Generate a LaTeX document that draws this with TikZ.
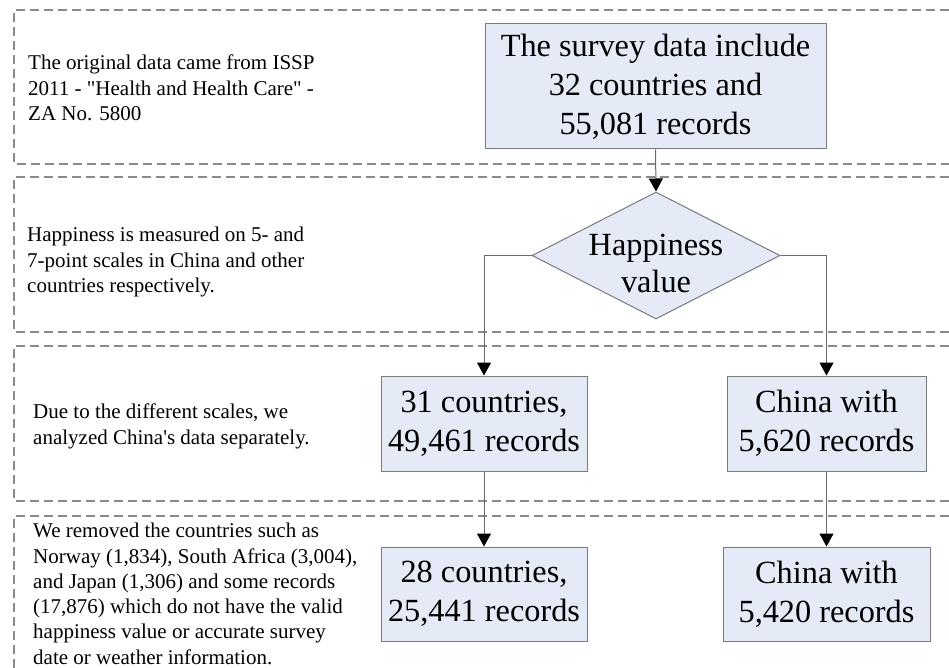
\documentclass[tikz,border=0pt]{standalone}
\usepackage{fontspec}
\setmainfont{Liberation Serif}
\usetikzlibrary{shapes.geometric,arrows.meta}
\definecolor{boxfill}{HTML}{E4EBF6}
\definecolor{boxline}{HTML}{7A7A7A}
\definecolor{dashline}{HTML}{8A8A8A}
\definecolor{conline}{HTML}{6A6A6A}
\begin{document}
\begin{tikzpicture}[x=1pt,y=-1pt,
  region/.style={draw=dashline, line width=1.1pt, dash pattern=on 9pt off 5pt},
  flowbox/.style={draw=boxline, fill=boxfill, line width=1pt, inner sep=0pt, align=center, font=\fontsize{32.3}{39}\selectfont},
  decision/.style={diamond, draw=boxline, fill=boxfill, line width=1pt, inner sep=0pt},
  decisiontext/.style={inner sep=0pt, align=center, font=\fontsize{32.3}{37}\selectfont},
  note/.style={anchor=north west, inner sep=0pt, align=left, font=\fontsize{21}{25.3}\selectfont},
  flow/.style={draw=conline, line width=1pt, -{Triangle[length=13pt,width=14pt,color=black]}}]
\useasboundingbox (0,0) rectangle (949,668);
\fill[white] (0,0) rectangle (949,668);

% dashed regions
\draw[region] (949,10) -- (14,10) -- (14,164) -- (949,164);
\draw[region] (949,177) -- (14,177) -- (14,332) -- (949,332);
\draw[region] (949,346) -- (14,346) -- (14,501) -- (949,501);
\draw[region] (949,516) -- (14,516) -- (14,668);

% notes
\node[note] (n1) at (28,55) {The original data came from ISSP\\2011 - \textquotedbl Health and Health Care\textquotedbl{} -\\ZA No. 5800};
\node[note] (n2) at (27,227) {Happiness is measured on 5- and\\7-point scales in China and other\\countries respectively.};
\node[note] (n3) at (33,404) {Due to the different scales, we\\analyzed China\textquotesingle s data separately.};
\node[note] (n4) at (33,523) {We removed the countries such as\\Norway (1,834), South Africa (3,004),\\and Japan (1,306) and some records\\(17,876) which do not have the valid\\happiness value or accurate survey\\date or weather information.};

% flow nodes
\node[flowbox, minimum width=341pt, minimum height=125pt] (survey) at (655.5,86.5) {The survey data include\\32 countries and\\55,081 records};
\node[decision, minimum width=248pt, minimum height=127pt] (hv) at (656,255.5) {};
\node[decisiontext] (hvtext) at (656,263) {Happiness\\value};
\node[flowbox, minimum width=206pt, minimum height=95pt] (b31) at (484,423.5) {31 countries,\\49,461 records};
\node[flowbox, minimum width=199pt, minimum height=95pt] (cn1) at (826.5,423.5) {China with\\5,620 records};
\node[flowbox, minimum width=206pt, minimum height=94pt] (b28) at (484,594) {28 countries,\\25,441 records};
\node[flowbox, minimum width=207pt, minimum height=94pt] (cn2) at (826.5,594) {China with\\5,420 records};

% connectors
\draw[flow] (survey.south) -- (hv.north);
\draw[flow] (hv.west) -| (b31.north);
\draw[flow] (hv.east) -| (cn1.north);
\draw[flow] (b31.south) -- (b28.north);
\draw[flow] (cn1.south) -- (cn2.north);
\end{tikzpicture}
\end{document}
